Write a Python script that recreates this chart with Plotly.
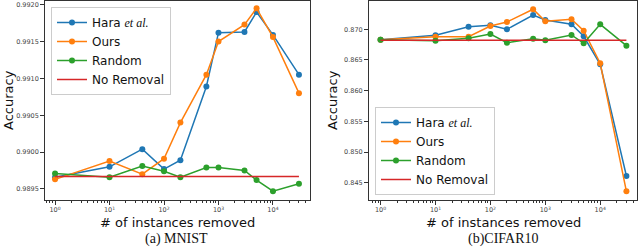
import plotly.graph_objects as go

# ---- data ----
n_removed = [1, 10, 40, 100, 200, 600, 1000, 3000, 5000, 10000, 30000]

mnist_hara = [0.98966, 0.98980, 0.99004, 0.98977, 0.98989, 0.99089, 0.99162, 0.99163, 0.99190, 0.99159, 0.99105]
mnist_ours = [0.98963, 0.98988, 0.98970, 0.98991, 0.99040, 0.99105, 0.99150, 0.99173, 0.99195, 0.99156, 0.99080]
mnist_random = [0.98971, 0.98966, 0.98981, 0.98974, 0.98966, 0.98979, 0.98979, 0.98975, 0.98962, 0.98947, 0.98957]
mnist_base = 0.98967

cifar_hara = [0.86831, 0.86902, 0.87042, 0.87065, 0.87000, 0.87233, 0.87152, 0.87081, 0.86886, 0.86430, 0.84609]
cifar_ours = [0.86831, 0.86880, 0.86880, 0.87054, 0.87119, 0.87326, 0.87130, 0.87163, 0.86977, 0.86446, 0.84359]
cifar_random = [0.86831, 0.86814, 0.86853, 0.86923, 0.86782, 0.86847, 0.86821, 0.86907, 0.86772, 0.87081, 0.86733]
cifar_base = 0.86821

x_tickvals = [1, 10, 100, 1000, 10000]
x_ticktext = ["10<sup>0</sup>", "10<sup>1</sup>", "10<sup>2</sup>", "10<sup>3</sup>", "10<sup>4</sup>"]
mnist_yticks = [0.9895, 0.9900, 0.9905, 0.9910, 0.9915, 0.9920]
cifar_yticks = [0.845, 0.850, 0.855, 0.860, 0.865, 0.870]

series_names = ['Hara <span style="font-family:Liberation Serif;font-style:italic">et al.</span>',
                "Ours", "Random", "No Removal"]
colors = ["#1f77b4", "#ff7f0e", "#2ca02c", "#d62728"]

minor_vals = [m * 10 ** k for k in range(-1, 5) for m in range(2, 10)]

fig = go.Figure()

def add_panel(xa, ya, legend, hara, ours, rnd, base):
    for name, vals, c in zip(series_names[:3], [hara, ours, rnd], colors[:3]):
        fig.add_trace(go.Scatter(
            x=n_removed, y=vals, mode="lines+markers", name=name,
            line=dict(color=c, width=1.5), marker=dict(color=c, size=6),
            xaxis=xa, yaxis=ya, legend=legend))
    fig.add_trace(go.Scatter(
        x=[n_removed[0], n_removed[-1]], y=[base, base], mode="lines",
        name=series_names[3], line=dict(color=colors[3], width=1.5),
        xaxis=xa, yaxis=ya, legend=legend))

add_panel("x", "y", "legend", mnist_hara, mnist_ours, mnist_random, mnist_base)
add_panel("x2", "y2", "legend2", cifar_hara, cifar_ours, cifar_random, cifar_base)

W, H = 640, 252
axis_common = dict(showline=True, mirror=True, linecolor="#333", linewidth=1,
                   ticks="outside", ticklen=3.5, tickcolor="#333", showgrid=False,
                   zeroline=False, tickfont=dict(family="DejaVu Sans", size=6.5, color="#444"))

xaxis_common = dict(axis_common, type="log", tickmode="array", tickvals=x_tickvals,
                    ticktext=x_ticktext,
                    minor=dict(ticks="outside", ticklen=2, tickcolor="#333",
                               tickmode="array", tickvals=minor_vals, showgrid=False))

top_px, bot_px = 1, 200
fig.update_layout(
    width=W, height=H, margin=dict(l=0, r=0, t=0, b=0),
    paper_bgcolor="white", plot_bgcolor="white",
    xaxis=dict(xaxis_common, domain=[44.7 / W, 310 / W], range=[-0.19, 4.68], anchor="y"),
    yaxis=dict(axis_common, domain=[1 - bot_px / H, 1 - top_px / H], range=[0.98935, 0.99205],
               tickmode="array", tickvals=mnist_yticks, tickformat=".4f", anchor="x"),
    xaxis2=dict(xaxis_common, domain=[368.5 / W, 637 / W], range=[-0.22, 4.67], anchor="y2"),
    yaxis2=dict(axis_common, domain=[1 - bot_px / H, 1 - top_px / H], range=[0.84218, 0.87461],
                tickmode="array", tickvals=cifar_yticks, tickformat=".3f", anchor="x2"),
    legend=dict(x=51 / W, y=1 - 7 / H, xanchor="left", yanchor="top",
                bgcolor="rgba(255,255,255,0.8)", bordercolor="#ccc", borderwidth=1,
                font=dict(family="DejaVu Sans", size=12, color="#111"), tracegroupgap=0),
    legend2=dict(x=375 / W, y=1 - 195 / H, xanchor="left", yanchor="bottom",
                 bgcolor="rgba(255,255,255,0.8)", bordercolor="#ccc", borderwidth=1,
                 font=dict(family="DejaVu Sans", size=12, color="#111"), tracegroupgap=0),
    showlegend=True,
)

ann_font = dict(family="DejaVu Sans", size=13, color="#111")
cap_font = dict(family="Liberation Serif", size=14, color="#111")
anns = [
    dict(text="# of instances removed", x=177 / W, y=1 - 222 / H, font=ann_font),
    dict(text="# of instances removed", x=503 / W, y=1 - 222 / H, font=ann_font),
    dict(text="Accuracy", x=9 / W, y=1 - 100 / H, textangle=-90, font=ann_font),
    dict(text="Accuracy", x=333 / W, y=1 - 100 / H, textangle=-90, font=ann_font),
    dict(text="(a) MNIST", x=176 / W, y=1 - 239 / H, font=cap_font),
    dict(text="(b)CIFAR10", x=503 / W, y=1 - 239 / H, font=cap_font),
]
for a in anns:
    fig.add_annotation(xref="paper", yref="paper", showarrow=False,
                       xanchor="center", yanchor="middle", **a)

fig.write_html("out.html", config={"displayModeBar": False},
               post_script="document.body.style.margin='0px';document.body.style.overflow='hidden';")
